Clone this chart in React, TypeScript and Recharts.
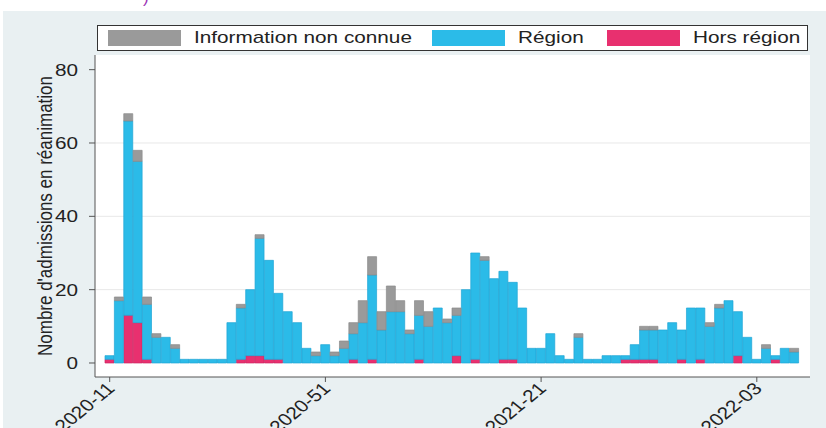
import React from 'react';
import { BarChart, Bar, XAxis, YAxis, CartesianGrid } from 'recharts';

// Weekly admissions, stacked: hors région (bottom), région, information non connue (top)
const horsRegion = [
  1, 0, 13, 11, 1, 0, 0, 0, 0, 0, 0, 0, 0, 0, 1, 2, 2, 1, 1, 0,
  0, 0, 0, 0, 0, 0, 1, 0, 1, 0, 0, 0, 0, 1, 0, 0, 0, 2, 0, 1,
  0, 0, 1, 1, 0, 0, 0, 0, 0, 0, 0, 0, 0, 0, 0, 1, 1, 1, 1, 0,
  0, 1, 0, 1, 0, 0, 0, 2, 0, 0, 0, 1, 0, 0,
];
const regionVals = [
  1, 17, 53, 44, 15, 7, 7, 4, 1, 1, 1, 1, 1, 11, 14, 18, 32, 27, 18, 14,
  11, 4, 2, 5, 2, 4, 7, 11, 23, 9, 14, 14, 8, 12, 10, 15, 11, 11, 20, 29,
  28, 23, 24, 21, 15, 4, 4, 8, 2, 1, 7, 1, 1, 2, 2, 1, 4, 8, 8, 9,
  11, 8, 15, 14, 10, 15, 17, 12, 7, 1, 4, 1, 4, 3,
];
const unknownVals = [
  0, 1, 2, 3, 2, 1, 0, 1, 0, 0, 0, 0, 0, 0, 1, 0, 1, 0, 0, 0,
  0, 0, 1, 0, 1, 2, 3, 6, 5, 5, 7, 3, 1, 4, 4, 0, 1, 2, 0, 0,
  1, 0, 0, 0, 0, 0, 0, 0, 0, 0, 1, 0, 0, 0, 0, 0, 0, 1, 1, 0,
  0, 0, 0, 0, 1, 1, 0, 0, 0, 0, 1, 0, 0, 1,
];

const tickIndices = [0, 23, 46, 69];
const tickLabels = ['2020-11', '2020-51', '2021-21', '2022-03'];
const yTicks = [0, 20, 40, 60, 80];
const gridValues = [20, 40, 60];

const SERIES = [
  { key: 'unknown', name: 'Information non connue', color: '#9a9a9a', stroke: '#8a8a8a' },
  { key: 'region', name: 'Région', color: '#2bbbe8', stroke: '#1fa5d6' },
  { key: 'hors', name: 'Hors région', color: '#e8306f', stroke: '#cc2561' },
];
const stackOrder = ['hors', 'region', 'unknown'];

const data = regionVals.map((r, i) => ({
  idx: i,
  hors: horsRegion[i],
  region: r,
  unknown: unknownVals[i],
}));

const FONT = "'Liberation Sans', Arial, Helvetica, sans-serif";
const SX = 1.22;
const legendLeft = [10, 334, 509];

const XTick = (props: any) => {
  const { x, y, payload } = props;
  const k = tickIndices.indexOf(payload.value);
  if (k < 0) return null;
  return (
    <g transform={`translate(${x + 2},${y + 2}) scale(${SX},1) rotate(-45)`}>
      <text x={0} y={0} dy={5} textAnchor="end" fontSize={17} fill="#222" fontFamily={FONT}>
        {tickLabels[k]}
      </text>
    </g>
  );
};

const YTick = (props: any) => {
  const { x, y, payload } = props;
  return (
    <g transform={`translate(${x - 1},${y}) scale(${SX},1)`}>
      <text x={0} y={0} dy={6} textAnchor="end" fontSize={17} fill="#222" fontFamily={FONT}>
        {payload.value}
      </text>
    </g>
  );
};

const YLabel = () => (
  <g transform={`translate(45,216) scale(${SX},1) rotate(-90)`}>
    <text x={0} y={0} dy={6} textAnchor="middle" fontSize={17} fill="#222" fontFamily={FONT}>
      Nombre d'admissions en réanimation
    </text>
  </g>
);

export default function App() {
  return (
    <div
      style={{
        position: 'absolute',
        left: 0,
        top: 0,
        width: 826,
        height: 428,
        background: '#ffffff',
        overflow: 'hidden',
        fontFamily: FONT,
      }}
    >
      <div style={{ position: 'absolute', left: 3, top: 11, right: 0, bottom: 0, background: '#e9f0f2' }} />
      <span style={{ position: 'absolute', left: 143, top: -12, color: '#9b34b5', fontSize: 17 }}>)</span>
      <div style={{ position: 'absolute', left: 0, top: 0 }}>
        <BarChart
          width={826}
          height={428}
          data={data}
          margin={{ top: 55, right: 16, bottom: 0, left: 0 }}
          barCategoryGap={0}
          barGap={0}
        >
          <CartesianGrid fill="#ffffff" vertical={false} horizontalValues={gridValues} stroke="#e8e8e8" />
          <XAxis
            dataKey="idx"
            type="category"
            ticks={tickIndices}
            interval={0}
            height={51}
            padding={{ left: 10, right: 11 }}
            axisLine={{ stroke: '#555' }}
            tickLine={{ stroke: '#555' }}
            tickSize={5}
            tick={<XTick />}
          />
          <YAxis
            type="number"
            domain={[-3.82, 84]}
            ticks={yTicks}
            interval={0}
            width={95}
            axisLine={{ stroke: '#555' }}
            tickLine={{ stroke: '#555' }}
            tickSize={6}
            tickMargin={10}
            tick={<YTick />}
            label={{ content: () => <YLabel /> }}
          />
          {stackOrder.map((k) => {
            const s = SERIES.find((d) => d.key === k)!;
            return (
              <Bar
                key={k}
                dataKey={k}
                name={s.name}
                stackId="a"
                fill={s.color}
                stroke={s.stroke}
                strokeWidth={0.7}
                isAnimationActive={false}
              />
            );
          })}
        </BarChart>
      </div>
      <div
        style={{
          position: 'absolute',
          left: 97,
          top: 25,
          width: 711,
          height: 26,
          border: '1px solid #333',
          background: '#fff',
          boxSizing: 'border-box',
        }}
      >
        {SERIES.map((s, i) => (
          <div key={s.key} style={{ position: 'absolute', left: legendLeft[i], top: 0, height: 24 }}>
            <div
              style={{
                position: 'absolute',
                left: 0,
                top: 4,
                width: 73,
                height: 16,
                background: s.color,
              }}
            />
            <span
              style={{
                position: 'absolute',
                left: 86,
                top: 0,
                lineHeight: '24px',
                fontSize: 17,
                color: '#222',
                whiteSpace: 'nowrap',
                display: 'inline-block',
                transform: `scaleX(${SX})`,
                transformOrigin: 'left center',
              }}
            >
              {s.name}
            </span>
          </div>
        ))}
      </div>
    </div>
  );
}
